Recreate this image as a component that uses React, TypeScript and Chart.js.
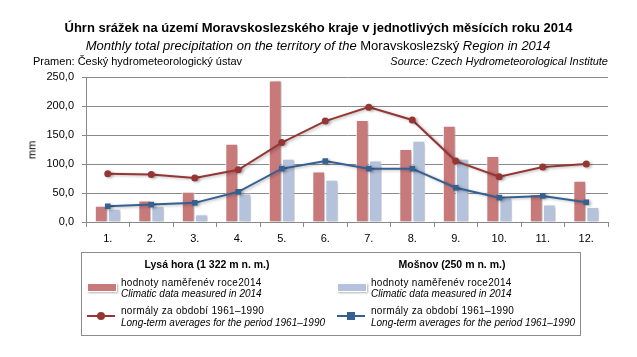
import React, { useEffect, useRef } from "react";
import { Chart, registerables } from "chart.js";

Chart.register(...registerables);

const months = ["1.", "2.", "3.", "4.", "5.", "6.", "7.", "8.", "9.", "10.", "11.", "12."];
const lysaMeasured = [28, 37, 52, 135, 244, 87, 176, 126, 166, 114, 48, 71];
const mosnovMeasured = [23, 27, 13, 49, 109, 73, 106, 140, 109, 42, 30, 26];
const lysaNormal = [83, 82, 76, 90, 137, 174, 198, 176, 105, 78, 95, 100];
const mosnovNormal = [27, 30, 33, 52, 92, 105, 92, 92, 59, 42, 45, 34];
const yTicks = [0, 50, 100, 150, 200, 250];

const RED_BAR = "#C87979";
const BLUE_BAR = "#B4C2DC";
const RED_LINE = "#963634";
const BLUE_LINE = "#376092";
const FONT = "'Liberation Sans', Arial, sans-serif";

const shadowPlugin = {
  id: "shadow",
  beforeDatasetDraw(chart: any) {
    const ctx = chart.ctx;
    ctx.save();
    ctx.shadowColor = "rgba(0,0,0,0.28)";
    ctx.shadowBlur = 3;
    ctx.shadowOffsetX = 2;
    ctx.shadowOffsetY = 1;
  },
  afterDatasetDraw(chart: any) {
    chart.ctx.restore();
  },
};

export default function App() {
  const ref = useRef<HTMLCanvasElement>(null);
  useEffect(() => {
    if (!ref.current) return;
    const chart = new Chart(ref.current, {
      type: "bar",
      data: {
        labels: months,
        datasets: [
          {
            type: "line",
            label: "Lysá hora normály",
            data: lysaNormal,
            borderColor: RED_LINE,
            backgroundColor: RED_LINE,
            borderWidth: 2,
            pointStyle: "circle",
            pointRadius: 3.5,
            pointBorderWidth: 0,
            order: 0,
          },
          {
            type: "line",
            label: "Mošnov normály",
            data: mosnovNormal,
            borderColor: BLUE_LINE,
            backgroundColor: BLUE_LINE,
            borderWidth: 2,
            pointStyle: "rect",
            pointRadius: 4,
            pointBorderWidth: 0,
            order: 0,
          },
          {
            type: "bar",
            label: "Lysá hora 2014",
            data: lysaMeasured,
            backgroundColor: RED_BAR,
            borderColor: "#ffffff",
            borderWidth: 1,
            categoryPercentage: 0.6,
            barPercentage: 0.98,
            order: 1,
          },
          {
            type: "bar",
            label: "Mošnov 2014",
            data: mosnovMeasured,
            backgroundColor: BLUE_BAR,
            borderColor: "#ffffff",
            borderWidth: 1,
            categoryPercentage: 0.6,
            barPercentage: 0.98,
            order: 1,
          },
        ] as any,
      },
      options: {
        animation: false,
        responsive: false,
        maintainAspectRatio: false,
        layout: { padding: { left: 0, right: 29, top: 77, bottom: 0 } },
        plugins: { legend: { display: false }, tooltip: { enabled: false }, title: { display: false } },
        scales: {
          x: {
            offset: true,
            grid: {
              offset: true,
              drawOnChartArea: false,
              drawTicks: true,
              tickLength: 5,
              color: "#888888",
              tickColor: "#888888",
            },
            border: { display: true, color: "#888888", width: 1 },
            ticks: { color: "#000", font: { family: FONT, size: 11 }, padding: 5 },
            afterFit: (s: any) => { s.height = 135; },
          },
          y: {
            min: 0,
            max: 250,
            afterBuildTicks: (s: any) => { s.ticks = yTicks.map((v) => ({ value: v })); },
            grid: {
              color: "#8a8a8a",
              lineWidth: 1,
              borderDash: [5, 3],
              tickBorderDash: [],
              tickLength: 4,
              tickColor: "#888888",
              drawTicks: true,
            } as any,
            border: { display: true, color: "#888888", width: 1 },
            ticks: {
              color: "#000",
              font: { family: FONT, size: 11 },
              padding: 8,
              callback: (v: any) => Number(v).toFixed(1).replace(".", ","),
            },
            afterFit: (s: any) => { s.width = 86; },
          },
        },
      },
      plugins: [shadowPlugin],
    });
    return () => chart.destroy();
  }, []);

  const abs = (l: number, t: number, extra: any = {}) => ({ position: "absolute" as const, left: l, top: t, whiteSpace: "nowrap" as const, ...extra });
  const cz = { fontSize: 10, lineHeight: "12px", letterSpacing: "0.3px" };
  const en = { fontSize: 10, lineHeight: "12px", fontStyle: "italic" };

  return (
    <div style={{ position: "fixed", left: 0, top: 0, width: 637, height: 357, background: "#fff", fontFamily: FONT, color: "#000", overflow: "hidden" }}>
      <canvas ref={ref} width={637} height={357} style={{ position: "absolute", left: 0, top: 0, width: 637, height: 357 }} />
      <div style={abs(0, 20, { width: 637, textAlign: "center", fontWeight: "bold", fontSize: 13, lineHeight: "16px" })}>
        Úhrn srážek na území Moravskoslezského kraje v jednotlivých měsících roku 2014
      </div>
      <div style={abs(0, 38, { width: 636, textAlign: "center", fontSize: 13, lineHeight: "16px" })}>
        <span style={{ fontStyle: "italic" }}>Monthly total precipitation on the territory of the </span>
        <span>Moravskoslezský</span>
        <span style={{ fontStyle: "italic" }}> Region in 2014</span>
      </div>
      <div style={abs(33, 55, { fontSize: 11, lineHeight: "13px" })}>Pramen: Český hydrometeorologický ústav</div>
      <div style={abs(0, 55, { width: 608, textAlign: "right", fontSize: 11, lineHeight: "13px", fontStyle: "italic" })}>Source: Czech Hydrometeorological Institute</div>
      <div style={abs(32, 150, { fontSize: 11, lineHeight: "13px", transform: "translate(-50%, -50%) rotate(-90deg)" })}>mm</div>

      <div style={abs(81, 252, { width: 498, height: 82, border: "1px solid #8c8c8c" })} />
      <div style={abs(137, 258, { width: 140, textAlign: "center", fontWeight: "bold", fontSize: 10.5, lineHeight: "13px" })}>Lysá hora (1 322 m n. m.)</div>
      <div style={abs(382, 258, { width: 140, textAlign: "center", fontWeight: "bold", fontSize: 10.5, lineHeight: "13px" })}>Mošnov (250 m n. m.)</div>

      <div style={abs(87, 283, { width: 28, height: 7, background: RED_BAR, border: "1px solid #fff", boxShadow: "1px 1px 2px rgba(0,0,0,0.3)" })} />
      <div style={abs(121, 277, cz)}>hodnoty naměřenév roce2014</div>
      <div style={abs(121, 288, en)}>Climatic data measured in 2014</div>
      <div style={abs(87, 315, { width: 28, height: 2, background: RED_LINE })} />
      <div style={abs(97, 312, { width: 8, height: 8, borderRadius: 4, background: RED_LINE })} />
      <div style={abs(121, 305, cz)}>normály za období 1961–1990</div>
      <div style={abs(121, 317, en)}>Long-term averages for the period 1961–1990</div>

      <div style={abs(337, 283, { width: 28, height: 7, background: BLUE_BAR, border: "1px solid #fff", boxShadow: "1px 1px 2px rgba(0,0,0,0.3)" })} />
      <div style={abs(371, 277, cz)}>hodnoty naměřenév roce2014</div>
      <div style={abs(371, 288, en)}>Climatic data measured in 2014</div>
      <div style={abs(337, 315, { width: 28, height: 2, background: BLUE_LINE })} />
      <div style={abs(347, 312, { width: 8, height: 8, background: BLUE_LINE })} />
      <div style={abs(371, 305, cz)}>normály za období 1961–1990</div>
      <div style={abs(371, 317, en)}>Long-term averages for the period 1961–1990</div>
    </div>
  );
}
